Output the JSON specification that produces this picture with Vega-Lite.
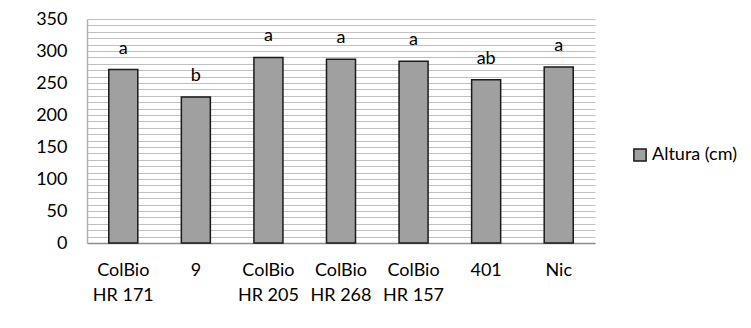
{
  "$schema": "https://vega.github.io/schema/vega-lite/v6.json",
  "autosize": {"type": "none"},
  "padding": {"left": 87, "top": 19, "right": 156, "bottom": 85},
  "width": 508,
  "height": 224,
  "background": "white",
  "config": {
    "font": "Lato",
    "view": {"stroke": null}
  },
  "data": {
    "values": [
      {"linea": "ColBio HR 171", "altura": 271, "letra": "a", "serie": "Altura (cm)"},
      {"linea": "9", "altura": 228, "letra": "b", "serie": "Altura (cm)"},
      {"linea": "ColBio HR 205", "altura": 290, "letra": "a", "serie": "Altura (cm)"},
      {"linea": "ColBio HR 268", "altura": 287, "letra": "a", "serie": "Altura (cm)"},
      {"linea": "ColBio HR 157", "altura": 284, "letra": "a", "serie": "Altura (cm)"},
      {"linea": "401", "altura": 255, "letra": "ab", "serie": "Altura (cm)"},
      {"linea": "Nic", "altura": 275, "letra": "a", "serie": "Altura (cm)"}
    ]
  },
  "encoding": {
    "x": {
      "field": "linea",
      "type": "nominal",
      "sort": null,
      "scale": {"paddingInner": 0.6, "paddingOuter": 0.3},
      "axis": {
        "title": null,
        "labelAngle": 0,
        "labelFont": "Lato",
        "labelFontSize": 18,
        "labelColor": "#000000",
        "labelBaseline": "top",
        "labelPadding": 18,
        "labelLineHeight": 25,
        "ticks": false,
        "domainColor": "#8c8c8c",
        "domainWidth": 1.5,
        "labelExpr": "indexof(datum.label, 'ColBio ') == 0 ? ['ColBio', substring(datum.label, 7)] : datum.label"
      }
    },
    "y": {
      "field": "altura",
      "type": "quantitative",
      "scale": {"domain": [0, 350], "nice": false},
      "axis": {
        "title": null,
        "values": [0,10,20,30,40,50,60,70,80,90,100,110,120,130,140,150,160,170,180,190,200,210,220,230,240,250,260,270,280,290,300,310,320,330,340,350],
        "labelExpr": "datum.value % 50 == 0 ? datum.label : ''",
        "labelFont": "Lato",
        "labelFontSize": 18,
        "labelColor": "#000000",
        "labelPadding": 20,
        "ticks": false,
        "grid": true,
        "gridColor": "#c0c0c0",
        "gridWidth": 1,
        "domainColor": "#b0b0b0",
        "domainWidth": 1.5
      }
    }
  },
  "layer": [
    {
      "mark": {"type": "bar", "stroke": "#1a1a1a", "strokeWidth": 1.5},
      "encoding": {
        "color": {
          "field": "serie",
          "type": "nominal",
          "scale": {"range": ["#a0a0a0"]},
          "legend": {
            "title": null,
            "orient": "none",
            "legendX": 544,
            "legendY": 127,
            "symbolType": "square",
            "symbolSize": 150,
            "symbolStrokeColor": "#1a1a1a",
            "symbolStrokeWidth": 1.5,
            "labelFont": "Lato",
            "labelFontSize": 18,
            "labelColor": "#000000",
            "labelOffset": 3
          }
        }
      }
    },
    {
      "mark": {"type": "text", "baseline": "bottom", "dy": -12, "font": "Lato", "fontSize": 18, "color": "#000000"},
      "encoding": {"text": {"field": "letra"}}
    }
  ]
}
